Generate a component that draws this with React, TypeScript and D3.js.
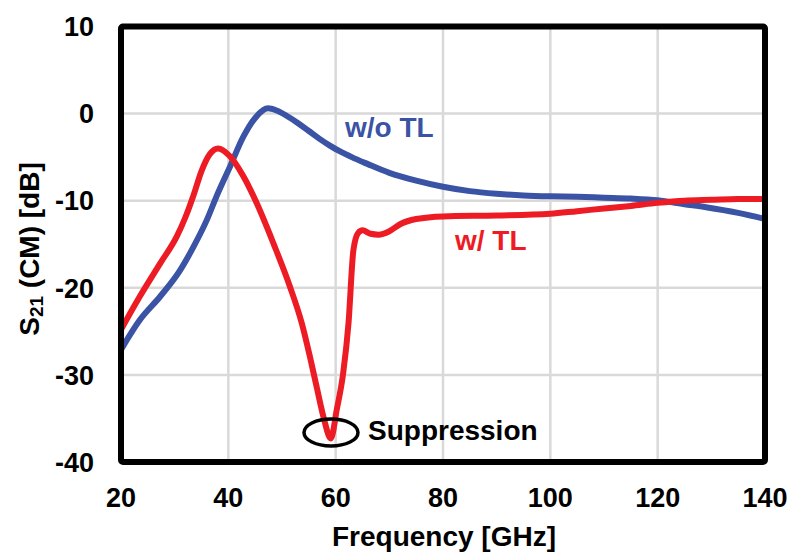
import React from "react";
import * as d3 from "d3";

const xTicks = [20, 40, 60, 80, 100, 120, 140];
const yTicks = [10, 0, -10, -20, -30, -40];

const woFreq = [20, 23.5, 27.3, 31, 33.5, 36, 37.8, 40.3, 42.8, 45, 47.4, 49, 51, 53, 55, 57, 59, 61, 63, 66, 70, 75, 80, 85, 90, 95, 100, 105, 110, 115, 120, 125, 129, 135, 140];
const woVal = [-27.1, -23.7, -21.0, -18.0, -15.3, -12.2, -9.5, -6.1, -2.65, -0.5, 0.6, 0.35, -0.3, -1.1, -2.0, -2.9, -3.7, -4.4, -5.0, -5.8, -6.8, -7.7, -8.4, -8.9, -9.2, -9.4, -9.5, -9.55, -9.65, -9.75, -9.95, -10.4, -10.75, -11.4, -12.1];

const wFreq = [20, 23.5, 27.3, 30.4, 32, 33.5, 35, 36.5, 38.1, 40.3, 42.8, 45.3, 48.4, 51.5, 53.7, 55.2, 56.5, 57.8, 59.1, 60.2, 61.4, 62.4, 63.3, 64.2, 65, 66.5, 68, 70, 72, 75, 80, 90, 100, 105, 110, 115, 120, 125, 130, 135, 140];
const wVal = [-24.8, -21.0, -17.2, -14.1, -11.9, -9.4, -6.6, -4.7, -4.0, -4.9, -7.2, -10.3, -14.9, -19.9, -24.1, -27.9, -31.5, -35.0, -37.3, -34.0, -29.8, -24.0, -15.7, -13.7, -13.4, -13.8, -13.9, -13.5, -12.7, -12.1, -11.8, -11.7, -11.5, -11.2, -10.9, -10.6, -10.25, -10.0, -9.9, -9.8, -9.8];

const FONT = "'Liberation Sans', Arial, Helvetica, sans-serif";
const RED = "#ED1C24";
const BLUE = "#3A53A4";

export default function App() {
  const W = 790, H = 552;
  const x0 = 121, x1 = 765, y0 = 26.5, y1 = 462;
  const x = d3.scaleLinear().domain([20, 140]).range([x0, x1]);
  const y = d3.scaleLinear().domain([-40, 10]).range([y1, y0]);
  const line = d3
    .line<[number, number]>()
    .x((d) => x(d[0]))
    .y((d) => y(d[1]))
    .curve(d3.curveMonotoneX);
  const wo = woFreq.map((f, i) => [f, woVal[i]] as [number, number]);
  const w = wFreq.map((f, i) => [f, wVal[i]] as [number, number]);

  return (
    <svg
      width={W}
      height={H}
      style={{ position: "absolute", left: 0, top: 0, background: "#fff" }}
      fontFamily={FONT}
      fontWeight="bold"
    >
      <defs>
        <clipPath id="plotClip">
          <rect x={x0} y={y0} width={x1 - x0} height={y1 - y0} />
        </clipPath>
      </defs>
      {xTicks.slice(1, -1).map((t) => (
        <line key={"gx" + t} x1={x(t)} x2={x(t)} y1={y0} y2={y1} stroke="#D9D9D9" strokeWidth={2.5} />
      ))}
      {yTicks.slice(1, -1).map((t) => (
        <line key={"gy" + t} x1={x0} x2={x1} y1={y(t)} y2={y(t)} stroke="#D9D9D9" strokeWidth={2.5} />
      ))}
      <g clipPath="url(#plotClip)">
        <path d={line(wo) || ""} fill="none" stroke={BLUE} strokeWidth={6} strokeLinejoin="round" />
        <path d={line(w) || ""} fill="none" stroke={RED} strokeWidth={6} strokeLinejoin="round" />
      </g>
      <rect x={x0} y={y0} width={x1 - x0} height={y1 - y0} fill="none" stroke="#000" strokeWidth={6} rx={2} />
      {yTicks.map((t) => (
        <text key={"ty" + t} x={94} y={y(t)} dy="0.36em" textAnchor="end" fontSize={27} fill="#000">
          {t}
        </text>
      ))}
      {xTicks.map((t) => (
        <text key={"tx" + t} x={x(t)} y={506.5} textAnchor="middle" fontSize={27} fill="#000">
          {t}
        </text>
      ))}
      <text x={444} y={546} textAnchor="middle" fontSize={28} fill="#000">
        Frequency [GHz]
      </text>
      <text transform="translate(39,249) rotate(-90)" textAnchor="middle" fontSize={28} fill="#000">
        S
        <tspan fontSize={19} dy={4}>21</tspan>
        <tspan dy={-4}> (CM) [dB]</tspan>
      </text>
      <text x={345} y={137} fontSize={28} fill={BLUE}>w/o TL</text>
      <text x={455} y={250} fontSize={28} fill={RED}>w/ TL</text>
      <ellipse cx={331} cy={432.5} rx={27} ry={13.5} fill="none" stroke="#000" strokeWidth={3.5} />
      <text x={368} y={440} fontSize={28} fill="#000">Suppression</text>
    </svg>
  );
}
